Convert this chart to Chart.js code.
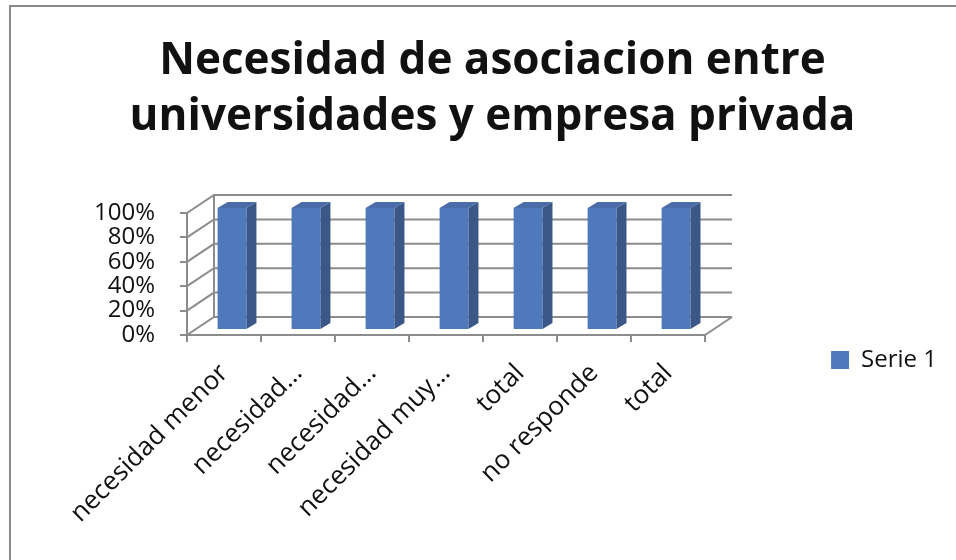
<!DOCTYPE html>
<html>
<head>
<meta charset="utf-8">
<script src="https://cdn.jsdelivr.net/npm/chart.js@4.4.0/dist/chart.umd.min.js"></script>
<style>
  html, body { margin: 0; padding: 0; background: #fff; }
  #wrap { position: relative; width: 956px; height: 560px; }
</style>
</head>
<body>
<div id="wrap"><canvas id="chart"></canvas></div>
<script>
const titleLines = ['Necesidad de asociacion entre', 'universidades y empresa privada'];
const categories = ['necesidad menor', 'necesidad…', 'necesidad…', 'necesidad muy…', 'total', 'no responde', 'total'];
const serie1 = [1, 1, 1, 1, 1, 1, 1];
const seriesName = 'Serie 1';
const yTickValues = [0, 0.2, 0.4, 0.6, 0.8, 1];

const fontFamily = "'Open Sans', 'Liberation Sans', sans-serif";
const textColor = '#111';
const gridColor = '#8c8c8c';
const frontColor = '#5079bc';
const sideColor = '#3b5787';
const topColor = '#4a6ca8';

// pseudo 3d offsets
const wallDepth = { x: 27, y: -18 };
const barShift = { x: 8, y: -5 };
const barDepth = { x: 10, y: -6 };
const legendCenterY = 360;

const frame = {
  id: 'frame',
  beforeDraw(chart) {
    const ctx = chart.ctx;
    ctx.save();
    ctx.fillStyle = '#fff';
    ctx.fillRect(0, 0, chart.width, chart.height);
    ctx.strokeStyle = '#8a8a8a';
    ctx.lineWidth = 2;
    ctx.beginPath();
    ctx.moveTo(10, chart.height);
    ctx.lineTo(10, 6);
    ctx.lineTo(chart.width, 6);
    ctx.stroke();
    ctx.restore();
  },
  afterLayout(chart) {
    // legend sits lower than the plot middle in the original
    const lg = chart.legend;
    const h = lg.bottom - lg.top;
    lg.top = legendCenterY - h / 2;
    lg.bottom = lg.top + h;
  }
};

const walls3d = {
  id: 'walls3d',
  beforeDatasetsDraw(chart) {
    const { ctx, chartArea: a, scales: { y } } = chart;
    ctx.save();
    ctx.strokeStyle = gridColor;
    ctx.lineWidth = 2;
    ctx.beginPath();
    y.ticks.forEach(t => {
      const py = y.getPixelForValue(t.value);
      ctx.moveTo(a.left, py);
      ctx.lineTo(a.left + wallDepth.x, py + wallDepth.y);
      ctx.lineTo(a.right + wallDepth.x, py + wallDepth.y);
    });
    ctx.moveTo(a.left + wallDepth.x, a.top + wallDepth.y);
    ctx.lineTo(a.left + wallDepth.x, a.bottom + wallDepth.y);
    ctx.moveTo(a.right, a.bottom);
    ctx.lineTo(a.right + wallDepth.x, a.bottom + wallDepth.y);
    ctx.stroke();
    ctx.restore();
  },
  beforeDatasetDraw(chart) {
    chart.ctx.save();
    chart.ctx.translate(barShift.x, barShift.y);
  },
  afterDatasetDraw(chart, args) {
    const ctx = chart.ctx;
    args.meta.data.forEach(bar => {
      const { x, y, base, width } = bar.getProps(['x', 'y', 'base', 'width'], true);
      const l = x - width / 2, r = x + width / 2;
      ctx.fillStyle = sideColor;
      ctx.beginPath();
      ctx.moveTo(r, y);
      ctx.lineTo(r + barDepth.x, y + barDepth.y);
      ctx.lineTo(r + barDepth.x, base + barDepth.y);
      ctx.lineTo(r, base);
      ctx.closePath();
      ctx.fill();
      ctx.fillStyle = topColor;
      ctx.beginPath();
      ctx.moveTo(l, y);
      ctx.lineTo(l + barDepth.x, y + barDepth.y);
      ctx.lineTo(r + barDepth.x, y + barDepth.y);
      ctx.lineTo(r, y);
      ctx.closePath();
      ctx.fill();
    });
    ctx.restore();
  }
};

new Chart(document.getElementById('chart'), {
  type: 'bar',
  data: {
    labels: categories,
    datasets: [{
      label: seriesName,
      data: serie1,
      backgroundColor: frontColor,
      borderWidth: 0,
      barPercentage: 0.39,
      categoryPercentage: 1,
      clip: false
    }]
  },
  options: {
    responsive: true,
    maintainAspectRatio: false,
    animation: false,
    layout: { padding: { left: 38, right: 9, top: 0, bottom: 0 } },
    scales: {
      x: {
        grid: { display: true, drawOnChartArea: false, tickLength: 7, color: gridColor, lineWidth: 2 },
        border: { display: true, color: gridColor, width: 2 },
        ticks: {
          autoSkip: false,
          minRotation: 45,
          maxRotation: 45,
          padding: 16,
          color: textColor,
          font: { family: fontFamily, size: 26 }
        },
        afterFit: s => { s.height = 560 - 335; }
      },
      y: {
        min: 0,
        max: 1,
        grid: { display: true, drawOnChartArea: false, tickLength: 7, color: gridColor, lineWidth: 2 },
        border: { display: true, color: gridColor, width: 2 },
        afterBuildTicks: s => { s.ticks = yTickValues.map(v => ({ value: v })); },
        ticks: {
          autoSkip: false,
          padding: 25,
          color: textColor,
          font: { family: fontFamily, size: 24 },
          callback: v => Math.round(v * 100) + '%'
        },
        afterFit: s => { s.width = 187 - 38; }
      },
      spacer: {
        type: 'linear',
        position: 'right',
        grid: { display: false },
        border: { display: false },
        ticks: { display: false },
        afterFit: s => { s.width = 116; }
      }
    },
    plugins: {
      title: {
        display: true,
        text: titleLines,
        color: textColor,
        font: { family: fontFamily, size: 44, weight: 'bold', lineHeight: 56 / 44 },
        padding: { top: 33, bottom: 68 }
      },
      legend: {
        position: 'right',
        align: 'center',
        labels: {
          boxWidth: 18,
          boxHeight: 18,
          padding: 10,
          color: textColor,
          font: { family: fontFamily, size: 24 }
        }
      },
      tooltip: { enabled: false }
    }
  },
  plugins: [frame, walls3d]
});
</script>
</body>
</html>
